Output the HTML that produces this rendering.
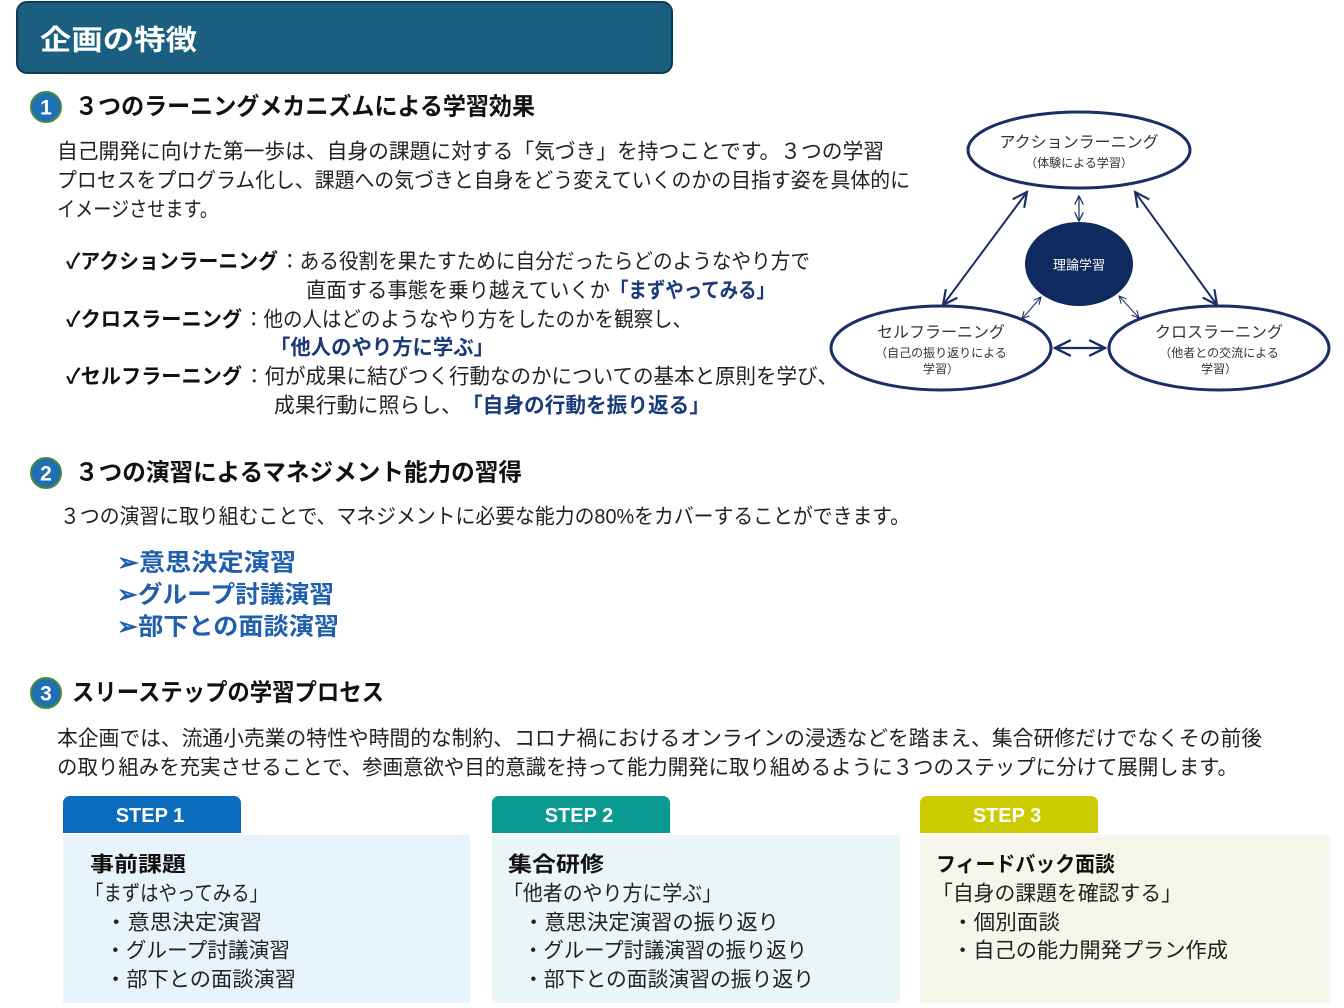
<!DOCTYPE html>
<html><head><meta charset="utf-8"><style>html,body{margin:0;padding:0;background:#fff}svg{display:block}</style></head><body>
<svg width="1344" height="1008" viewBox="0 0 1344 1008" xmlns="http://www.w3.org/2000/svg" font-family="'Liberation Sans','Noto Sans CJK JP',sans-serif" dominant-baseline="central">
<defs>
<marker id="ah" viewBox="0 0 10 10" refX="9" refY="5" markerWidth="6" markerHeight="6" orient="auto-start-reverse"><path d="M1,1 L9,5 L1,9" fill="none" stroke="#1a2f66" stroke-width="1.6"/></marker>
<marker id="ah2" viewBox="0 0 10 10" refX="9" refY="5" markerWidth="9" markerHeight="9" orient="auto-start-reverse"><path d="M1,1 L9,5 L1,9" fill="none" stroke="#1a2f66" stroke-width="1.2"/></marker>
</defs>
<rect x="17" y="2" width="655" height="71" rx="10" fill="#1a5f80" stroke="#0e3a52" stroke-width="2"/>
<text x="40" y="40" font-size="28" font-weight="bold" fill="#fff" textLength="157" lengthAdjust="spacingAndGlyphs">企画の特徴</text>

<g font-size="24" font-weight="bold" fill="#111">
<circle cx="46" cy="107" r="15" fill="#1f6fb5" stroke="#4a8a3a" stroke-width="2"/><text x="46" y="108" fill="#fff" text-anchor="middle" font-size="21">1</text>
<text x="75" y="107" textLength="460" lengthAdjust="spacingAndGlyphs">３つのラーニングメカニズムによる学習効果</text>
<circle cx="46" cy="473" r="15" fill="#1f6fb5" stroke="#4a8a3a" stroke-width="2"/><text x="46" y="474" fill="#fff" text-anchor="middle" font-size="21">2</text>
<text x="75" y="473" textLength="447" lengthAdjust="spacingAndGlyphs">３つの演習によるマネジメント能力の習得</text>
<circle cx="46" cy="693" r="15" fill="#1f6fb5" stroke="#4a8a3a" stroke-width="2"/><text x="46" y="694" fill="#fff" text-anchor="middle" font-size="21">3</text>
<text x="72" y="693" textLength="312" lengthAdjust="spacingAndGlyphs">スリーステップの学習プロセス</text>
</g>

<g font-size="21" fill="#222">
<text x="57" y="152" textLength="827" lengthAdjust="spacingAndGlyphs">自己開発に向けた第一歩は、自身の課題に対する「気づき」を持つことです。３つの学習</text>
<text x="57" y="181" textLength="853" lengthAdjust="spacingAndGlyphs">プロセスをプログラム化し、課題への気づきと自身をどう変えていくのかの目指す姿を具体的に</text>
<text x="57" y="210" textLength="161" lengthAdjust="spacingAndGlyphs">イメージさせます。</text>

<text x="66" y="262" font-weight="bold" fill="#111" textLength="212" lengthAdjust="spacingAndGlyphs">✓アクションラーニング</text>
<text x="280" y="262" textLength="530" lengthAdjust="spacingAndGlyphs">：ある役割を果たすために自分だったらどのようなやり方で</text>
<text x="306" y="291" textLength="304" lengthAdjust="spacingAndGlyphs">直面する事態を乗り越えていくか</text>
<text x="610" y="291" font-weight="bold" fill="#1b3a7a" textLength="165" lengthAdjust="spacingAndGlyphs">「まずやってみる」</text>
<text x="66" y="320" font-weight="bold" fill="#111" textLength="176" lengthAdjust="spacingAndGlyphs">✓クロスラーニング</text>
<text x="244" y="320" textLength="448" lengthAdjust="spacingAndGlyphs">：他の人はどのようなやり方をしたのかを観察し、</text>
<text x="270" y="348" font-weight="bold" fill="#1b3a7a" textLength="224" lengthAdjust="spacingAndGlyphs">「他人のやり方に学ぶ」</text>
<text x="66" y="377" font-weight="bold" fill="#111" textLength="176" lengthAdjust="spacingAndGlyphs">✓セルフラーニング</text>
<text x="244" y="377" textLength="594" lengthAdjust="spacingAndGlyphs">：何が成果に結びつく行動なのかについての基本と原則を学び、</text>
<text x="274" y="406" textLength="188" lengthAdjust="spacingAndGlyphs">成果行動に照らし、</text>
<text x="462" y="406" font-weight="bold" fill="#1b3a7a" textLength="248" lengthAdjust="spacingAndGlyphs">「自身の行動を振り返る」</text>

<text x="60" y="517" textLength="850" lengthAdjust="spacingAndGlyphs">３つの演習に取り組むことで、マネジメントに必要な能力の80%をカバーすることができます。</text>
<g font-size="24" font-weight="bold" fill="#1f5fae">
<text x="117" y="563" textLength="179" lengthAdjust="spacingAndGlyphs">➢意思決定演習</text>
<text x="117" y="595" textLength="217" lengthAdjust="spacingAndGlyphs">➢グループ討議演習</text>
<text x="117" y="627" textLength="222" lengthAdjust="spacingAndGlyphs">➢部下との面談演習</text>
</g>
<text x="57" y="739" textLength="1205" lengthAdjust="spacingAndGlyphs">本企画では、流通小売業の特性や時間的な制約、コロナ禍におけるオンラインの浸透などを踏まえ、集合研修だけでなくその前後</text>
<text x="57" y="768" textLength="1181" lengthAdjust="spacingAndGlyphs">の取り組みを充実させることで、参画意欲や目的意識を持って能力開発に取り組めるように３つのステップに分けて展開します。</text>
</g>

<!-- steps -->
<rect x="63" y="835" width="407" height="168" fill="#e8f4fc"/>
<path d="M63,833 V803 a7,7 0 0 1 7,-7 H234 a7,7 0 0 1 7,7 V833 Z" fill="#0b6bbd"/>
<rect x="492" y="835" width="408" height="168" fill="#eaf6f8"/>
<path d="M492,833 V803 a7,7 0 0 1 7,-7 H663 a7,7 0 0 1 7,7 V833 Z" fill="#0a9a92"/>
<rect x="920" y="835" width="410" height="168" fill="#f6f6ea"/>
<path d="M920,833 V803 a7,7 0 0 1 7,-7 H1091 a7,7 0 0 1 7,7 V833 Z" fill="#cccc00"/>
<g font-size="20" font-weight="bold" fill="#fff" text-anchor="middle">
<text x="150" y="816">STEP 1</text><text x="579" y="816">STEP 2</text><text x="1007" y="816">STEP 3</text>
</g>
<g font-size="21" fill="#222">
<text x="90" y="865" font-weight="bold" fill="#111" textLength="96" lengthAdjust="spacingAndGlyphs">事前課題</text>
<text x="85" y="894" textLength="183" lengthAdjust="spacingAndGlyphs">「まずはやってみる」</text>
<text x="105" y="923" textLength="157" lengthAdjust="spacingAndGlyphs">・意思決定演習</text>
<text x="105" y="951" textLength="185" lengthAdjust="spacingAndGlyphs">・グループ討議演習</text>
<text x="105" y="980" textLength="191" lengthAdjust="spacingAndGlyphs">・部下との面談演習</text>
<text x="508" y="865" font-weight="bold" fill="#111" textLength="96" lengthAdjust="spacingAndGlyphs">集合研修</text>
<text x="503" y="894" textLength="219" lengthAdjust="spacingAndGlyphs">「他者のやり方に学ぶ」</text>
<text x="523" y="923" textLength="256" lengthAdjust="spacingAndGlyphs">・意思決定演習の振り返り</text>
<text x="523" y="951" textLength="284" lengthAdjust="spacingAndGlyphs">・グループ討議演習の振り返り</text>
<text x="523" y="980" textLength="291" lengthAdjust="spacingAndGlyphs">・部下との面談演習の振り返り</text>
<text x="936" y="865" font-weight="bold" fill="#111" textLength="179" lengthAdjust="spacingAndGlyphs">フィードバック面談</text>
<text x="932" y="894" textLength="250" lengthAdjust="spacingAndGlyphs">「自身の課題を確認する」</text>
<text x="952" y="923" textLength="108" lengthAdjust="spacingAndGlyphs">・個別面談</text>
<text x="952" y="951" textLength="276" lengthAdjust="spacingAndGlyphs">・自己の能力開発プラン作成</text>
</g>

<!-- diagram -->
<g stroke="#1a2f66" fill="none">
<line x1="1027" y1="192" x2="943" y2="305" stroke-width="2" marker-start="url(#ah2)" marker-end="url(#ah2)"/>
<line x1="1135" y1="192" x2="1217" y2="305" stroke-width="2" marker-start="url(#ah2)" marker-end="url(#ah2)"/>
<line x1="1079" y1="196" x2="1079" y2="221" stroke-width="1.2" marker-start="url(#ah2)" marker-end="url(#ah2)"/>
<line x1="1055" y1="348" x2="1105" y2="348" stroke-width="2.2" marker-start="url(#ah2)" marker-end="url(#ah2)"/>
<line x1="1022" y1="319" x2="1041" y2="297" stroke-width="1" marker-start="url(#ah2)" marker-end="url(#ah2)"/>
<line x1="1119" y1="296" x2="1139" y2="318" stroke-width="1" marker-start="url(#ah2)" marker-end="url(#ah2)"/>
<ellipse cx="1079" cy="150" rx="111" ry="38" fill="#fff" stroke-width="3"/>
<ellipse cx="941" cy="348" rx="110" ry="42" fill="#fff" stroke-width="3"/>
<ellipse cx="1219" cy="348" rx="110" ry="42" fill="#fff" stroke-width="3"/>
<ellipse cx="1079" cy="264" rx="54" ry="42" fill="#0f2a5e" stroke="none"/>
</g>
<g fill="#333" text-anchor="middle">
<text x="1079" y="143" font-size="16">アクションラーニング</text>
<text x="1079" y="163" font-size="12">（体験による学習）</text>
<text x="1079" y="265" font-size="13" fill="#fff">理論学習</text>
<text x="941" y="333" font-size="16">セルフラーニング</text>
<text x="941" y="353" font-size="12">（自己の振り返りによる</text>
<text x="941" y="369" font-size="12">学習）</text>
<text x="1219" y="333" font-size="16">クロスラーニング</text>
<text x="1219" y="353" font-size="12">（他者との交流による</text>
<text x="1219" y="369" font-size="12">学習）</text>
</g>
</svg>
</body></html>
